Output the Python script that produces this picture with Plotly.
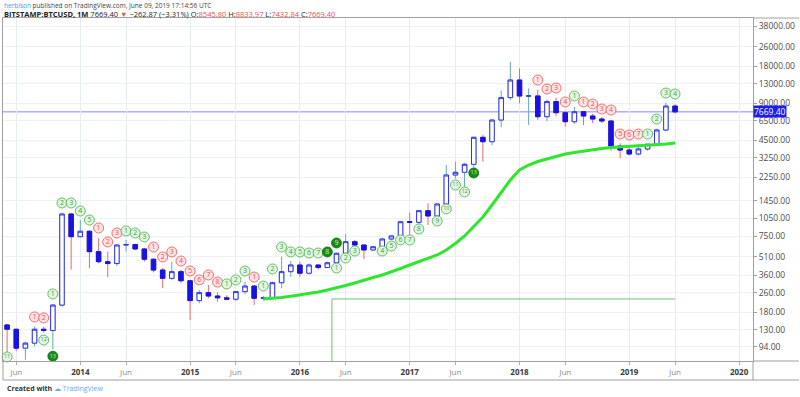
import math
import plotly.graph_objects as go

# ---------------- data ----------------
start_year, start_month = 2013, 5   # first visible monthly bar: May 2013
n_bars = 74                          # May 2013 .. Jun 2019

opens = [142, 131, 92, 101, 131, 128, 206, 1133,
         741, 820, 560, 464, 448, 634, 640, 589, 486, 397, 340, 385,
         325, 224, 260, 244, 236, 230, 265, 294, 234, 236, 313, 385,
         436, 374, 436, 416, 455, 543, 675, 634, 578, 614, 710, 751,
         981, 970, 1206, 1092, 1367, 2352, 2474, 2874, 4764, 4387, 6584, 10010,
         13924, 10320, 10330, 7007, 9300, 7551, 6380, 7694, 7098, 6708, 6463, 4048,
         3755, 3485, 3828, 4180, 5462, 8545.80]
highs = [145, 133, 103, 138, 137, 208, 1150, 1160,
         1013, 835, 720, 560, 640, 697, 650, 600, 493, 414, 464, 400,
         330, 273, 300, 262, 247, 268, 320, 300, 245, 320, 510, 470,
         465, 448, 440, 466, 550, 780, 700, 640, 615, 715, 755, 985,
         1161, 1210, 1385, 1370, 2836, 3017, 2950, 4800, 4980, 6600, 11400, 19620,
         17340, 11900, 11650, 9700, 9990, 7800, 8450, 7800, 7400, 7000, 6580, 4258,
         4100, 4200, 4200, 5600, 9108, 8833.97]
lows = [79, 87, 74, 95, 123, 90, 200, 400,
        735, 410, 450, 347, 428, 560, 575, 465, 380, 282, 330, 310,
        156, 213, 234, 219, 226, 222, 252, 206, 225, 233, 282, 350,
        350, 365, 400, 412, 440, 530, 600, 486, 570, 600, 695, 740,
        741, 920, 923, 1080, 1360, 2200, 1889, 2700, 3017, 4110, 5744, 9600,
        9004, 6000, 6600, 6450, 7100, 5809, 6100, 6000, 6200, 6200, 3700, 3216,
        3400, 3400, 3700, 4080, 5360, 7432.84]
closes = [131, 92, 101, 131, 128, 206, 1133, 741,
          820, 560, 464, 448, 634, 640, 589, 486, 397, 340, 385, 325,
          224, 260, 244, 236, 230, 265, 294, 234, 236, 313, 385, 436,
          374, 436, 416, 455, 543, 675, 634, 578, 614, 710, 751, 981,
          970, 1206, 1092, 1367, 2352, 2474, 2874, 4764, 4387, 6584, 10010, 13924,
          10320, 10330, 7007, 9300, 7551, 6380, 7694, 7098, 6708, 6463, 4048, 3755,
          3485, 3828, 4180, 5462, 8545.80, 7669.40]

# thick green moving average, Sep 2015 .. Jun 2019
ma_start = "2015-09"
ma_values = [230.8, 233.0, 237.4, 242.8, 248.8, 255.9, 263.2, 273.2, 283.7, 297.2,
             311.5, 329.5, 345.3, 361.8, 382.7, 408.6, 436.3, 465.8, 497.4, 526.2,
             577.9, 652.5, 750.6, 888.6, 1071.5, 1341.5, 1679.6, 2142, 2583, 2837,
             3029, 3174, 3357, 3485, 3584, 3686, 3791, 3863, 3937, 3973,
             4011, 4048, 4086, 4125, 4203, 4282]

# thin green step line
step_months = ["2016-04", "2016-05", "2019-06"]
step_values = [1, 231, 231]

# sequential count bubbles: (month, number, kind, price level)
# kind: r = red setup, g = green count, d = completed (dark green)
td_counts = [
    ("2013-05", 11, "g", 78), ("2013-08", 1, "r", 165), ("2013-09", 2, "r", 162),
    ("2013-09", 12, "g", 107), ("2013-10", 13, "d", 79), ("2013-10", 1, "g", 253.5),
    ("2013-11", 2, "g", 1393), ("2013-12", 3, "g", 1393), ("2014-01", 4, "g", 1199),
    ("2014-02", 5, "g", 1013), ("2014-03", 1, "r", 872), ("2014-04", 2, "r", 671),
    ("2014-05", 3, "r", 794), ("2014-06", 1, "g", 825), ("2014-07", 2, "g", 794),
    ("2014-08", 3, "g", 737), ("2014-09", 1, "r", 611), ("2014-10", 2, "r", 507),
    ("2014-11", 3, "r", 557), ("2014-12", 4, "r", 470), ("2015-01", 5, "r", 390),
    ("2015-02", 6, "r", 330), ("2015-03", 7, "r", 362), ("2015-04", 8, "r", 317),
    ("2015-05", 1, "g", 306), ("2015-06", 2, "g", 330), ("2015-07", 3, "g", 390),
    ("2015-08", 1, "r", 348), ("2015-09", 1, "g", 294), ("2015-10", 2, "g", 405),
    ("2015-11", 3, "g", 611), ("2015-12", 4, "g", 557), ("2016-01", 5, "g", 557),
    ("2016-02", 6, "g", 546), ("2016-03", 7, "g", 546), ("2016-04", 8, "d", 557),
    ("2016-05", 9, "d", 659), ("2016-05", 1, "g", 412), ("2016-06", 2, "g", 497),
    ("2016-07", 3, "g", 567), ("2016-10", 4, "g", 567), ("2016-11", 5, "g", 622),
    ("2016-12", 6, "g", 697), ("2017-01", 7, "g", 697), ("2017-02", 8, "g", 856),
    ("2017-04", 9, "g", 994), ("2017-05", 10, "g", 1245), ("2017-06", 11, "g", 1951),
    ("2017-07", 12, "g", 1711), ("2017-08", 13, "d", 2442),
    ("2018-03", 1, "r", 13924), ("2018-04", 2, "r", 11768), ("2018-05", 3, "r", 11990),
    ("2018-06", 4, "r", 9226), ("2018-07", 1, "g", 10323), ("2018-08", 1, "r", 9226),
    ("2018-09", 2, "r", 8887), ("2018-10", 3, "r", 8093), ("2018-11", 4, "r", 7943),
    ("2018-12", 5, "r", 5068), ("2019-01", 6, "r", 4974), ("2019-02", 7, "r", 5068),
    ("2019-03", 1, "g", 5068), ("2019-04", 2, "g", 6710), ("2019-05", 3, "g", 10916),
    ("2019-06", 4, "g", 10715),
]

price_ticks = [94, 130, 180, 260, 360, 510, 750, 1050, 1450, 2250, 3250, 4500,
               6500, 9000, 13000, 18000, 26000, 38000]
time_tick_months = ["2013-06", "2014-01", "2014-06", "2015-01", "2015-06", "2016-01",
                    "2016-06", "2017-01", "2017-06", "2018-01", "2018-06", "2019-01",
                    "2019-06", "2020-01"]
time_tick_labels = ["Jun", "2014", "Jun", "2015", "Jun", "2016", "Jun", "2017",
                    "Jun", "2018", "Jun", "2019", "Jun", "2020"]

header_1 = "published on TradingView.com, June 09, 2019 17:14:56 UTC"
author = "herbison"
symbol = "BITSTAMP:BTCUSD, 1M"
change_text = "\u2212262.87 (\u22123.31%)"


# ---------------- helpers ----------------
def mpos(s):
    y, m = s.split("-")
    return (int(y) - start_year) * 12 + int(m) - start_month


xi = list(range(n_bars))
FONT = "Open Sans"
RED = "#ef4f4f"
GREEN = "#45b045"

fig = go.Figure()

# last price line
fig.add_shape(type="line", xref="paper", x0=0, x1=1, yref="y",
              y0=closes[-1], y1=closes[-1], line=dict(color="#8585ff", width=1),
              layer="below")

# wicks
fig.add_trace(go.Candlestick(
    x=xi, open=opens, high=highs, low=lows, close=closes,
    increasing=dict(line=dict(color="#62aaa8", width=1), fillcolor="rgba(0,0,0,0)"),
    decreasing=dict(line=dict(color="#e66a6a", width=1), fillcolor="rgba(0,0,0,0)"),
    whiskerwidth=0, hoverinfo="skip"))
# bodies
body_hi = [max(o, c) for o, c in zip(opens, closes)]
body_lo = [min(o, c) for o, c in zip(opens, closes)]
fig.add_trace(go.Candlestick(
    x=xi, open=opens, high=body_hi, low=body_lo, close=closes,
    increasing=dict(line=dict(color="#3333ee", width=1), fillcolor="#ffffff"),
    decreasing=dict(line=dict(color="#1414e6", width=1), fillcolor="#1414e6"),
    whiskerwidth=0, hoverinfo="skip"))

# moving average
ma_x = [mpos(ma_start) + i for i in range(len(ma_values))]
fig.add_trace(go.Scatter(x=ma_x, y=ma_values, mode="lines",
                         line=dict(color="#2ee62e", width=3), hoverinfo="skip"))
# step line
fig.add_trace(go.Scatter(x=[mpos(s) for s in step_months], y=step_values, mode="lines",
                         line=dict(color="#6fc06f", width=1, shape="hvh"), hoverinfo="skip"))

# count bubbles
styles = {
    "r": dict(fill="#fde4e4", edge=RED, text=RED),
    "g": dict(fill="#e2f5e2", edge=GREEN, text="#3aa63a"),
    "d": dict(fill="#178a17", edge="#0f6f0f", text="#c9efc9"),
}
for kind, st in styles.items():
    pts = [t for t in td_counts if t[2] == kind]
    fig.add_trace(go.Scatter(
        x=[mpos(t[0]) for t in pts], y=[t[3] for t in pts],
        mode="markers+text", text=[str(t[1]) for t in pts],
        textposition="middle center",
        textfont=dict(family=FONT, color=st["text"],
                      size=[7 if t[1] < 10 else 5.5 for t in pts]),
        marker=dict(size=10, color=st["fill"], line=dict(color=st["edge"], width=0.8)),
        hoverinfo="skip", cliponaxis=False))

# ---------------- layout ----------------
L, R, T, B = 3, 47, 18, 36
W, H = 800, 397
pw, ph = W - L - R, H - T - B


def px(xp):
    return (xp - L) / pw


def py(yp):
    return (H - B - yp) / ph


tick_vals = [mpos(s) for s in time_tick_months]
tick_text = [f"<b><span style='color:#3a3a3a'>{t}</span></b>" if t.isdigit()
             else f"<span style='color:#8a8a8a'>{t}</span>" for t in time_tick_labels]

fig.update_layout(
    width=W, height=H, margin=dict(l=L, r=R, t=T, b=B),
    paper_bgcolor="white", plot_bgcolor="white", showlegend=False,
    font=dict(family=FONT, size=8, color="#4a4a4a"),
    xaxis=dict(range=[-0.448, 81.52], tickvals=tick_vals, ticktext=tick_text,
               showgrid=True, gridcolor="#e6edf2", gridwidth=1, zeroline=False,
               showline=True, linecolor="#a0a0a0", linewidth=1, mirror=True,
               ticks="outside", ticklen=3, tickcolor="#b0b0b0",
               tickfont=dict(size=8), rangeslider=dict(visible=False), fixedrange=True),
    yaxis=dict(type="log", side="right",
               range=[math.log10(72.3), math.log10(44460)],
               tickvals=price_ticks, ticktext=[f"{v:.2f}" for v in price_ticks],
               showgrid=True, gridcolor="#edf1f4", gridwidth=1, zeroline=False,
               showline=True, linecolor="#a0a0a0", linewidth=1, mirror=True,
               ticks="outside", ticklen=3, tickcolor="#a0a0a0",
               tickfont=dict(size=8.5, color="#4a4a4a"), fixedrange=True),
)

# frame around the time scale and price scale corners
line_c = dict(color="#a0a0a0", width=1)
fig.add_shape(type="line", xref="paper", yref="paper", x0=0, x1=px(799), y0=py(380), y1=py(380), line=line_c)
fig.add_shape(type="line", xref="paper", yref="paper", x0=1, x1=px(799), y0=0, y1=0, line=line_c)
fig.add_shape(type="line", xref="paper", yref="paper", x0=1, x1=px(799), y0=1, y1=1, line=line_c)
fig.add_shape(type="line", xref="paper", yref="paper", x0=0, x1=0, y0=py(380), y1=0, line=line_c)
fig.add_shape(type="line", xref="paper", yref="paper", x0=1, x1=1, y0=py(380), y1=0, line=line_c)

# last price label on the scale
fig.add_annotation(xref="paper", yref="y", x=1, y=math.log10(closes[-1]),
                   text=f"{closes[-1]:.2f}", showarrow=False, xanchor="left", yanchor="middle",
                   xshift=0, bgcolor="#1c1cf2", font=dict(color="white", size=8.5, family=FONT),
                   borderpad=0)

# header
fig.add_annotation(xref="paper", yref="paper", x=px(2), y=py(5), xanchor="left", yanchor="middle",
                   showarrow=False,
                   text=f"<span style='color:#3d9be0'>{author}</span> {header_1}",
                   font=dict(size=6.5, color="#444", family=FONT))
o, h, l, c = opens[-1], highs[-1], lows[-1], closes[-1]
hdr2 = (f"<b>{symbol}</b> {c:.2f} <span style='color:{RED}'>\u25bc</span> {change_text} "
        f"O:<span style='color:{RED}'>{o:.2f}</span> H:<span style='color:{RED}'>{h:.2f}</span> "
        f"L:<span style='color:{RED}'>{l:.2f}</span> C:<span style='color:{RED}'>{c:.2f}</span>")
fig.add_annotation(xref="paper", yref="paper", x=px(2), y=py(14), xanchor="left", yanchor="middle",
                   showarrow=False, text=hdr2, font=dict(size=7.5, color="#222", family=FONT))

# footer
fig.add_annotation(xref="paper", yref="paper", x=px(5), y=py(388), xanchor="left", yanchor="middle",
                   showarrow=False,
                   text="<b>Created with</b> <span style='color:#59b3ec'>\u2601 TradingView</span>",
                   font=dict(size=7, color="#333", family=FONT))

fig.write_html("out.html", config={"displayModeBar": False},
               post_script="document.body.style.margin='0';")
